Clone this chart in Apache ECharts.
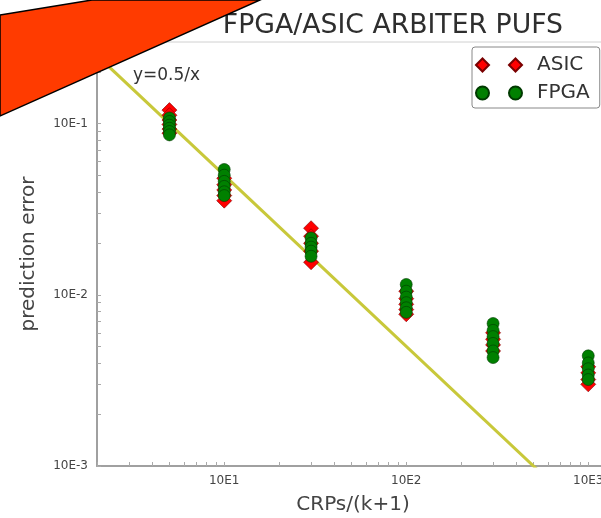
<!DOCTYPE html>
<html><head><meta charset="utf-8">
<script src="https://cdn.jsdelivr.net/npm/echarts@6/dist/echarts.min.js"></script>
<style>html,body{margin:0;padding:0;background:#fff}#c{width:601px;height:518px}</style>
</head><body><div id="c"></div>
<script>
// ---- data ----
const xValues = [5, 10, 30, 100, 300, 1000];
const asicValues = [
  [0.120, 0.112, 0.105, 0.099, 0.093, 0.088],
  [0.048, 0.044, 0.041, 0.038, 0.0355],
  [0.0245, 0.022, 0.020, 0.018, 0.0155],
  [0.0105, 0.0095, 0.0088, 0.0082, 0.0077],
  [0.0060, 0.0055, 0.0051, 0.0047],
  [0.0038, 0.0035, 0.0032, 0.0030]
];
const fpgaValues = [
  [0.108, 0.103, 0.098, 0.094, 0.090, 0.086],
  [0.054, 0.050, 0.046, 0.043, 0.040, 0.038],
  [0.0215, 0.020, 0.019, 0.018, 0.0168],
  [0.0115, 0.0105, 0.0097, 0.0090, 0.0084, 0.0079],
  [0.0068, 0.0062, 0.0057, 0.0052, 0.0047, 0.0043],
  [0.0044, 0.0040, 0.0037, 0.0034, 0.0032]
];
const refLineX = [1, 1000];
const refLineY = [0.5, 0.0005];
const xTickValues = [10, 100, 1000];
const xTickLabels = ['10E1', '10E2', '10E3'];
const yTickValues = [0.001, 0.01, 0.1];
const yTickLabels = ['10E-3', '10E-2', '10E-1'];
const xAllTicks = [2,3,4,5,6,7,8,9,10,20,30,40,50,60,70,80,90,100,200,300,400,500,600,700,800,900,1000];
const yAllTicks = [0.001,0.002,0.003,0.004,0.005,0.006,0.007,0.008,0.009,0.01,0.02,0.03,0.04,0.05,0.06,0.07,0.08,0.09,0.1,0.2,0.3];
const titleText = 'FPGA/ASIC ARBITER PUFS';

// ---- build ----
function pairs(groups) {
  const out = [];
  groups.forEach((g, i) => g.forEach(v => out.push([xValues[i], v])));
  return out;
}
function lookup(vals, labels) {
  return function (v) {
    const i = vals.findIndex(t => Math.abs(t - v) / t < 1e-6);
    return i >= 0 ? labels[i] : '';
  };
}
const FONT = 'DejaVu Sans';
const chart = echarts.init(document.getElementById('c'), null, {renderer: 'canvas'});
const diamonds = 'path://M0,6.5L6.5,0L13,6.5L6.5,13Z M33,6.5L39.5,0L46,6.5L39.5,13Z';
const circles = 'path://M0,6.5A6.5,6.5 0 1,0 13,6.5A6.5,6.5 0 1,0 0,6.5Z M33,6.5A6.5,6.5 0 1,0 46,6.5A6.5,6.5 0 1,0 33,6.5Z';
chart.setOption({
  animation: false,
  backgroundColor: '#fff',
  textStyle: {fontFamily: FONT},
  grid: {left: 97, top: 42, width: 512, height: 424, outerBoundsMode: 'none', containLabel: false,
         show: true, borderColor: '#d0d0d0', borderWidth: 1, backgroundColor: 'transparent'},
  legend: {
    data: [{name: 'ASIC', icon: diamonds}, {name: 'FPGA', icon: circles}],
    orient: 'vertical', left: 472, top: 47,
    itemWidth: 46, itemHeight: 13, itemGap: 8,
    padding: [8, 10, 5, 3],
    borderColor: '#888', borderWidth: 1, borderRadius: 3, backgroundColor: '#fff',
    textStyle: {fontSize: 20, color: '#333', fontFamily: FONT, padding: [0, 0, 0, 10]}
  },
  xAxis: {
    type: 'log', logBase: 10, min: 2, max: 1300,
    name: 'CRPs/(k+1)', nameLocation: 'middle', nameGap: 29,
    nameTextStyle: {fontSize: 20, color: '#444', fontFamily: FONT},
    axisLine: {lineStyle: {color: '#a0a0a0', width: 2}},
    axisTick: {inside: true, length: 4, customValues: xAllTicks, lineStyle: {color: '#aaa'}},
    axisLabel: {customValues: xTickValues, formatter: lookup(xTickValues, xTickLabels), fontSize: 12, color: '#444', margin: 9},
    splitLine: {show: false}, minorTick: {show: false}
  },
  yAxis: {
    type: 'log', logBase: 10, min: 0.001, max: 0.3,
    name: 'prediction error', nameLocation: 'middle', nameGap: 58,
    nameTextStyle: {fontSize: 20, color: '#444', fontFamily: FONT},
    axisLine: {lineStyle: {color: '#a0a0a0', width: 2}},
    axisTick: {inside: true, length: 4, customValues: yAllTicks, lineStyle: {color: '#aaa'}},
    axisLabel: {customValues: yTickValues, formatter: lookup(yTickValues, yTickLabels), fontSize: 12, color: '#444', margin: 9},
    splitLine: {show: false}, minorTick: {show: false}
  },
  series: [
    {
      name: 'y=0.5/x', type: 'line', data: refLineX.map((x, i) => [x, refLineY[i]]),
      symbol: 'none', clip: true, lineStyle: {color: '#c8c83a', width: 3}, z: 1
    },
    {
      name: 'ASIC', type: 'scatter', data: pairs(asicValues), symbol: 'diamond', symbolSize: 15,
      itemStyle: {color: '#ff0000', borderColor: '#7a0000', borderWidth: 0.6, opacity: 1}, z: 3
    },
    {
      name: 'FPGA', type: 'scatter', data: pairs(fpgaValues), symbol: 'circle', symbolSize: 12,
      itemStyle: {color: '#008000', borderColor: '#003a00', borderWidth: 0.6, opacity: 1}, z: 4
    }
  ],
  graphic: [
    {type: 'text', x: 563, y: 13, z: 50,
     style: {text: titleText, fontSize: 26.7, fill: '#2e2e2e', fontFamily: FONT, align: 'right', textAlign: 'right', verticalAlign: 'top'}},
    {type: 'text', x: 133, y: 67, z: 50,
     style: {text: 'y=0.5/x', fontSize: 17, fill: '#333', fontFamily: FONT, verticalAlign: 'top'}},
    {type: 'polygon', z: 100,
     shape: {points: [[0, 15], [92, 0], [260, 0], [0, 116]]},
     style: {fill: '#ff3b00', stroke: '#000', lineWidth: 1.5}}
  ]
});
</script></body></html>
